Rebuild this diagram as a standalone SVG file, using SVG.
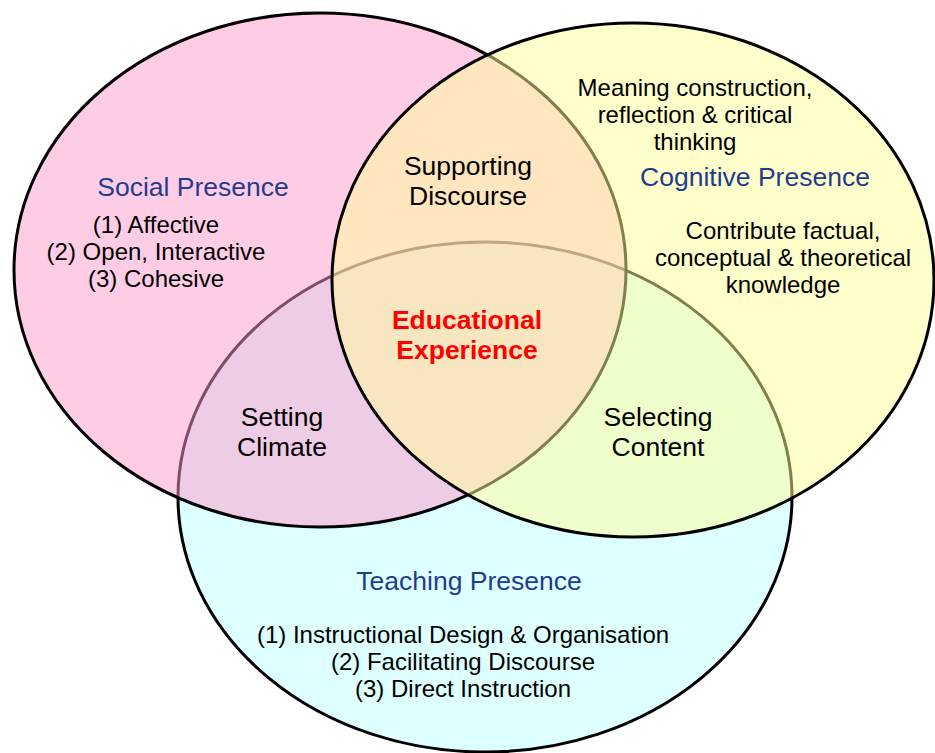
<svg xmlns="http://www.w3.org/2000/svg" width="935" height="753" viewBox="0 0 935 753">
<style>
.c{stroke:#000;stroke-width:3;fill-opacity:0.5}
text{font-family:"Liberation Sans",Arial,sans-serif;text-anchor:middle;fill:#000}
.b{font-size:24px}
.l{font-size:26.5px}
.t{font-size:26.5px;fill:#1F3D8F}
.e{font-size:26.5px;font-weight:bold;fill:#FF0000}
</style>
<rect width="935" height="753" fill="#fff"/>
<g id="teaching">
<ellipse class="c" cx="485" cy="497" rx="307" ry="255" fill="#BBFFFF"/>
</g>
<g id="social">
<ellipse class="c" cx="320" cy="270" rx="306" ry="257" fill="#FF99CC"/>
</g>
<g id="cognitive">
<ellipse class="c" cx="633" cy="280" rx="301" ry="257" fill="#FFFF99"/>
</g>
<g id="social-text">
<text class="t" x="193" y="196">Social Presence</text>
<text class="b" x="156" y="233">(1) Affective</text>
<text class="b" x="156" y="260">(2) Open, Interactive</text>
<text class="b" x="156" y="287">(3) Cohesive</text>
</g>
<g id="cognitive-text">
<text class="b" x="695" y="96">Meaning construction,</text>
<text class="b" x="695" y="123">reflection &amp; critical</text>
<text class="b" x="695" y="150">thinking</text>
<text class="t" x="755" y="186">Cognitive Presence</text>
<text class="b" x="783" y="239">Contribute factual,</text>
<text class="b" x="783" y="266">conceptual &amp; theoretical</text>
<text class="b" x="783" y="293">knowledge</text>
</g>
<g id="teaching-text">
<text class="t" x="469" y="590">Teaching Presence</text>
<text class="b" x="463" y="643">(1) Instructional Design &amp; Organisation</text>
<text class="b" x="463" y="670">(2) Facilitating Discourse</text>
<text class="b" x="463" y="697">(3) Direct Instruction</text>
</g>
<g id="supporting-discourse">
<text class="l" x="468" y="175">Supporting</text>
<text class="l" x="468" y="205">Discourse</text>
</g>
<g id="educational-experience">
<text class="e" x="467" y="329">Educational</text>
<text class="e" x="467" y="359">Experience</text>
</g>
<g id="setting-climate">
<text class="l" x="282" y="426">Setting</text>
<text class="l" x="282" y="456">Climate</text>
</g>
<g id="selecting-content">
<text class="l" x="658" y="426">Selecting</text>
<text class="l" x="658" y="456">Content</text>
</g>
</svg>
